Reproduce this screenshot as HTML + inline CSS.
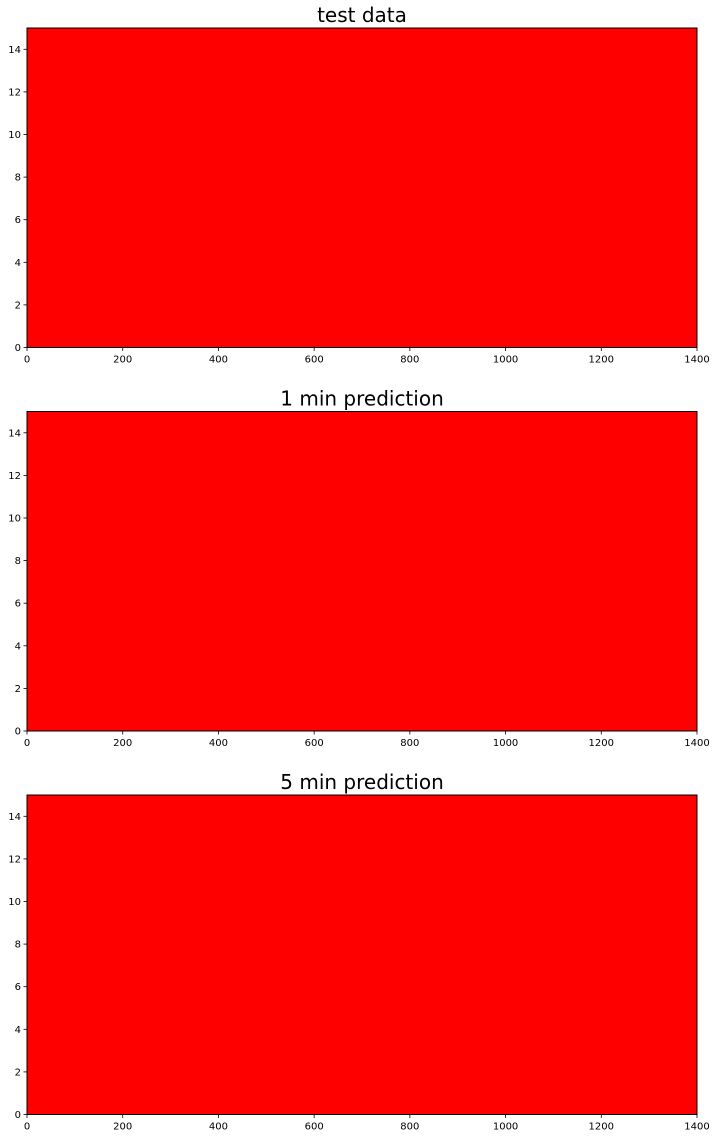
<!DOCTYPE html>
<html><head><meta charset="utf-8"><style>
html,body{margin:0;padding:0;background:#fff;}
svg{display:block;font-family:"DejaVu Sans","Liberation Sans",sans-serif;}
</style></head><body>
<svg id="fig" width="716" height="1139"></svg>
<script>
const titles = ["test data", "1 min prediction", "5 min prediction"];
const xTicks = [0, 200, 400, 600, 800, 1000, 1200, 1400];
const yTicks = [0, 2, 4, 6, 8, 10, 12, 14];
const xDomain = [0, 1400];
const yDomain = [0, 15];
const cellXExtent = [0, 1400];
const cellYExtent = [0, 15];

const NS = "http://www.w3.org/2000/svg";
const svg = document.getElementById("fig");
const L = 27, R = 697, H = 319.5;
const tops = [28, 411.5, 795];
function mk(tag, attrs, parent){const e=document.createElementNS(NS,tag);for(const k in attrs)e.setAttribute(k,attrs[k]);parent.appendChild(e);return e;}
titles.forEach((t, i) => {
  const T = tops[i], B = T + H;
  const g = mk("g", {}, svg);
  
  
  const xs = v => L + (v - xDomain[0]) / (xDomain[1] - xDomain[0]) * (R - L);
  const ys = v => B - (v - yDomain[0]) / (yDomain[1] - yDomain[0]) * H;
  const cell = mk("rect", {x: xs(cellXExtent[0]), y: ys(cellYExtent[1]), width: xs(cellXExtent[1]) - xs(cellXExtent[0]), height: ys(cellYExtent[0]) - ys(cellYExtent[1]), fill: "#ff0000"}, g);
  
  
  const frame = mk("rect", {x: L, y: T, width: R - L, height: H, fill: "none", stroke: "#000", "stroke-width": 1}, g);
  
  
  const title = mk("text", {x: (L + R) / 2, y: T - 6, "text-anchor": "middle", "font-size": 20, fill: "#000"}, g);
  title.textContent = t;
  
  
  xTicks.forEach(v => {
    const x = xs(v);
    mk("line", {x1: x, x2: x, y1: B, y2: B + 3.5, stroke: "#000", "stroke-width": 0.8}, g);
    const lb = mk("text", {x: x, y: B + 15, "text-anchor": "middle", "font-size": 10, fill: "#000"}, g);
    lb.textContent = v;
    
    
  });
  yTicks.forEach(v => {
    const y = ys(v);
    mk("line", {x1: L - 3.5, x2: L, y1: y, y2: y, stroke: "#000", "stroke-width": 0.8}, g);
    const lb = mk("text", {x: L - 6, y: y + 3.5, "text-anchor": "end", "font-size": 10, fill: "#000"}, g);
    lb.textContent = v;
    
    
  });
});
</script>
</body></html>
